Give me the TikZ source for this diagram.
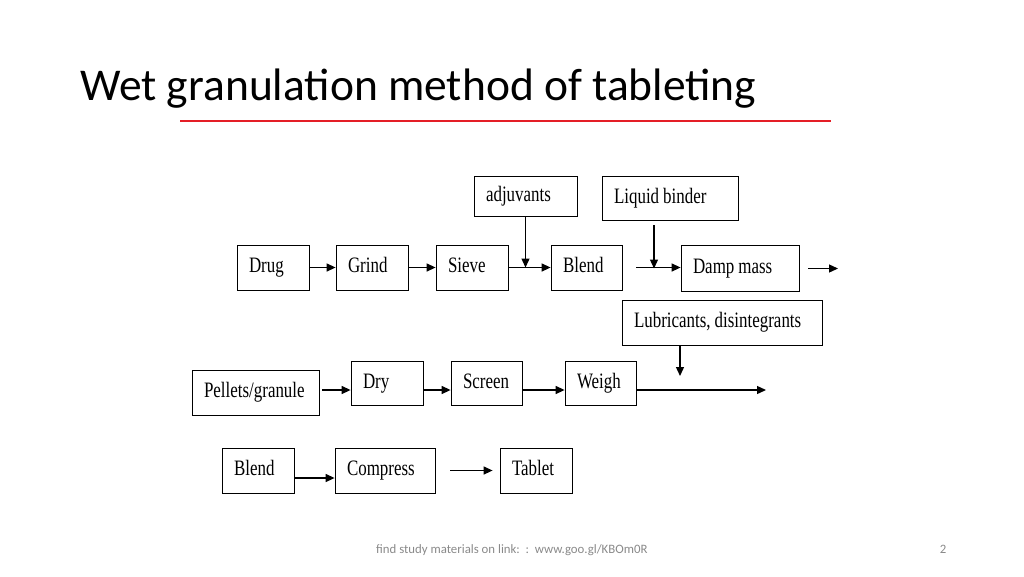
\documentclass[tikz,border=0pt]{standalone}
\usepackage{fontspec}
\setmainfont{Carlito}
\newfontfamily\boxfont[FakeStretch=0.77]{Liberation Serif}
\usetikzlibrary{arrows.meta}
\definecolor{titlered}{RGB}{228,30,38}
\definecolor{footgray}{RGB}{137,137,137}

\begin{document}
\begin{tikzpicture}[x=1pt,y=-1pt,
stepnode/.style={draw=black, line width=0.8pt, fill=white, inner xsep=12pt, inner ysep=0pt, minimum height=45pt, text height=15pt, text depth=5pt, align=left, font=\boxfont\fontsize{22}{24}\selectfont, execute at begin node={\spaceskip=4pt\relax}},
flow/.style={-{Triangle[length=9pt,width=8pt]}, line width=1.3pt}]
\useasboundingbox (0,0) rectangle (1024,576);

% title and rule
\node[anchor=base west, inner sep=0pt, font=\fontsize{45.5}{48}\selectfont] (title) at (80,100) {Wet granulation method of tableting};
\draw[titlered, line width=1.4pt] (180,121) -- (831,121);

% first row
\node[stepnode, text width=48pt] (drug) at (273,267.5) {Drug};
\node[stepnode, text width=48pt] (grind) at (372,267.5) {Grind};
\node[stepnode, text width=48pt] (sieve) at (472,267.5) {Sieve};
\node[stepnode, text width=47pt] (blend) at (586.5,267.5) {Blend};
\node[stepnode, text width=94pt, minimum height=46pt] (damp) at (740,268) {Damp mass};
\node[stepnode, text width=79pt, minimum height=40pt] (adj) at (525.5,196) {adjuvants};
\node[stepnode, text width=112pt, minimum height=44pt] (binder) at (670,198) {Liquid binder};

\coordinate (bin) at (654,268.5);
\coordinate (out1) at (838,268.5);

\draw[flow] (drug.east) -- (grind.west);
\draw[flow] (grind.east) -- (sieve.west);
\draw[flow] (sieve.east) -- (blend.west);
\draw[flow] (adj.south) -- (adj.south |- sieve.east);
\draw[flow] ([xshift=14pt]blend.east) -- (damp.west |- blend.east);
\draw[flow, shorten <=5pt] (binder.south -| bin) -- (bin);
\draw[flow] ([xshift=9pt]damp.east |- out1) -- (out1);

% second row
\node[stepnode, text width=176pt] (lub) at (722,322.5) {Lubricants, disintegrants};
\node[stepnode, text width=103pt] (pellets) at (255.5,392.5) {Pellets/granule};
\node[stepnode, text width=48pt, minimum height=44pt] (dry) at (387,383) {Dry};
\node[stepnode, text width=47pt, minimum height=44pt] (screen) at (486.5,383) {Screen};
\node[stepnode, text width=47pt, minimum height=44pt] (weigh) at (600.5,383) {Weigh};

\coordinate (r2) at (0,390);
\coordinate (lubin) at (680,376);
\coordinate (out2) at (766,390);

\draw[flow, shorten <=3pt] (pellets.east |- r2) -- (dry.west |- r2);
\draw[flow] (dry.east |- r2) -- (screen.west |- r2);
\draw[flow] (screen.east |- r2) -- (weigh.west |- r2);
\draw[flow] (weigh.east |- r2) -- (out2);
\draw[flow] (lub.south -| lubin) -- (lubin);

% third row
\node[stepnode, text width=48pt] (blend2) at (258,470.5) {Blend};
\node[stepnode, text width=76pt] (compress) at (385,470.5) {Compress};
\node[stepnode, text width=48pt] (tablet) at (536,470.5) {Tablet};

\coordinate (r3) at (0,478);
\coordinate (tabin) at (450,470.5);

\draw[flow] (blend2.east |- r3) -- (compress.west |- r3);
\draw[flow] (tabin) -- ([xshift=-7pt]tablet.west);

% footer
\node[anchor=base west, inner sep=0pt, text=footgray, font=\fontsize{12.8}{14}\selectfont] (foot) at (376,553) {find study materials on link:\ \ :\ \ www.goo.gl/KBOm0R};
\node[anchor=base, inner sep=0pt, text=footgray, font=\fontsize{12.8}{14}\selectfont] (page) at (943,553) {2};
\end{tikzpicture}
\end{document}
